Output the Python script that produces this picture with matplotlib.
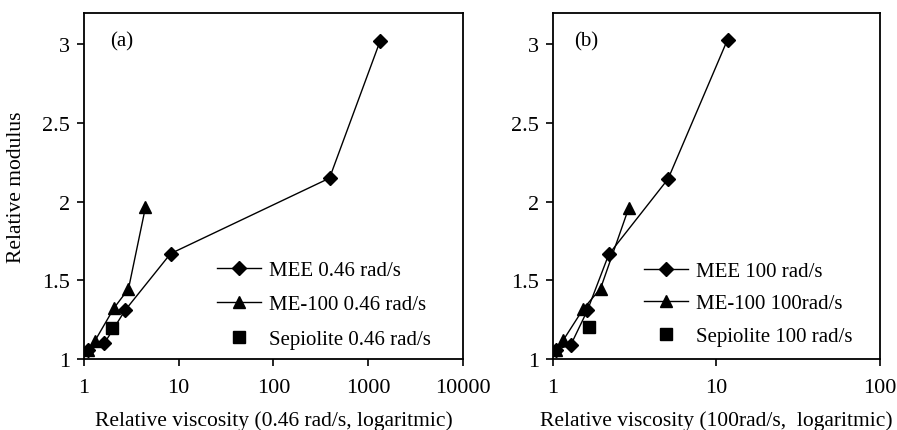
import matplotlib
matplotlib.use("Agg")
import matplotlib.pyplot as plt
from matplotlib.ticker import FixedLocator, FixedFormatter, NullLocator

plt.rcParams['font.family'] = ['Liberation Serif', 'DejaVu Serif']
plt.rcParams['font.size'] = 15

# Panel (a): 0.46 rad/s
a_mee_x = [1.11, 1.64, 2.72, 8.2, 390, 1330]
a_mee_y = [1.057, 1.10, 1.31, 1.67, 2.15, 3.02]
a_me100_x = [1.11, 1.31, 2.08, 2.95, 4.46]
a_me100_y = [1.057, 1.117, 1.325, 1.446, 1.966]
a_sep_x = [2.0]
a_sep_y = [1.20]

# Panel (b): 100 rad/s
b_mee_x = [1.05, 1.29, 1.63, 2.2, 5.07, 11.7]
b_mee_y = [1.06, 1.09, 1.31, 1.665, 2.145, 3.03]
b_me100_x = [1.05, 1.16, 1.54, 1.96, 2.92]
b_me100_y = [1.06, 1.12, 1.32, 1.448, 1.963]
b_sep_x = [1.67]
b_sep_y = [1.205]

a_xticks = [1, 10, 100, 1000, 10000]
a_xlabels = ['1', '10', '100', '1000', '10000']
b_xticks = [1, 10, 100]
b_xlabels = ['1', '10', '100']
yticks = [1, 1.5, 2, 2.5, 3]
ylabels = ['1', '1.5', '2', '2.5', '3']

fig = plt.figure(figsize=(8.97, 4.31), dpi=100)
ax_a = fig.add_axes([0.0936, 0.1647, 0.4226, 0.8028])
ax_b = fig.add_axes([0.6162, 0.1647, 0.3648, 0.8028])


def draw(ax, mee, me100, sep, labels, xticks, xlabels, xmax, tag, tagx, legx, legy, spacing):
    ax.plot(*mee, color='black', lw=1.0, marker='D', ms=7, label=labels[0], zorder=3)
    ax.plot(*me100, color='black', lw=1.0, marker='^', ms=8.5, label=labels[1], zorder=4)
    ax.plot(*sep, color='black', lw=0, marker='s', ms=8, label=labels[2], zorder=5)
    ax.set_xscale('log')
    ax.set_xlim(1, xmax)
    ax.set_ylim(1, 3.2)
    ax.xaxis.set_major_locator(FixedLocator(xticks))
    ax.xaxis.set_major_formatter(FixedFormatter(xlabels))
    ax.xaxis.set_minor_locator(NullLocator())
    ax.yaxis.set_major_locator(FixedLocator(yticks))
    ax.yaxis.set_major_formatter(FixedFormatter(ylabels))
    ax.tick_params(direction='out', length=5, width=1.2, labelsize=16)
    ax.tick_params(axis='x', pad=9)
    ax.tick_params(axis='y', pad=5)
    for s in ax.spines.values():
        s.set_linewidth(1.3)
    ax.text(tagx, 0.92, tag, transform=ax.transAxes, fontsize=15, va='center', ha='left')
    ax.legend(loc='center left', bbox_to_anchor=(legx, legy), frameon=False,
              fontsize=15, handlelength=2.1, handletextpad=0.4, labelspacing=spacing,
              borderaxespad=0, borderpad=0)


draw(ax_a, (a_mee_x, a_mee_y), (a_me100_x, a_me100_y), (a_sep_x, a_sep_y),
     ['MEE 0.46 rad/s', 'ME-100 0.46 rad/s', 'Sepiolite 0.46 rad/s'],
     a_xticks, a_xlabels, 10000, '(a)', 0.07, 0.351, 0.157, 0.72)
draw(ax_b, (b_mee_x, b_mee_y), (b_me100_x, b_me100_y), (b_sep_x, b_sep_y),
     ['MEE 100 rad/s', 'ME-100 100rad/s', 'Sepiolite 100 rad/s'],
     b_xticks, b_xlabels, 100, '(b)', 0.065, 0.279, 0.16, 0.62)

ax_a.set_xlabel('Relative viscosity (0.46 rad/s, logaritmic)', fontsize=15.5, labelpad=9)
ax_b.set_xlabel('Relative viscosity (100rad/s,  logaritmic)', fontsize=15.5, labelpad=9)
ax_a.set_ylabel('Relative modulus', fontsize=15.5, labelpad=12)

fig.savefig('out.png', dpi=100)
